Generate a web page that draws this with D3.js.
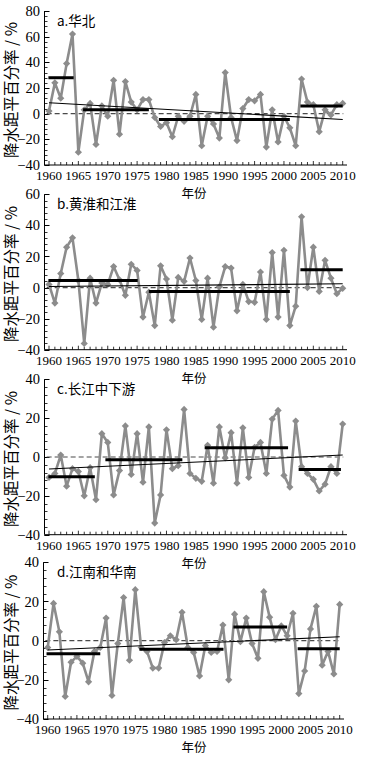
<!DOCTYPE html>
<html><head><meta charset="utf-8">
<script src="https://cdn.jsdelivr.net/npm/d3@7"></script>
<style>
html,body{margin:0;padding:0;background:#fff;}
svg{display:block;}
</style></head>
<body>
<svg id="chart" width="371" height="760"></svg>
<script>
// ---- data ----
const years = d3.range(1960, 2011);
const panelTitles = ["a.华北", "b.黄淮和江淮", "c.长江中下游", "d.江南和华南"];
const yAxisLabel = "降水距平百分率 / %";
const xAxisLabel = "年份";
const xTickValues = [1960,1965,1970,1975,1980,1985,1990,1995,2000,2005,2010];

const valuesA = [2,24,12,39,62,-30,3,8,-24,6,
  -2,26,-16,25,9,3,11,11,-3,-10,
  -7,-18,-2,-6,-2,15,-25,-2,-8,-19,
  32,-3,-21,4,11,10,15,-26,3,-22,
  -2,-11,-25,27,9,7,-14,3,-1,7,8];
const valuesB = [2,-10,9,26,32,4.5,-36,6,-10,3,
  2,13.5,5,-5,15,11,-19,-3,-24.5,14,
  5.5,-21,6.5,4,19,4.5,-20.5,6,-25.5,0.5,
  13.5,12.5,-15,2,-9,-9.5,10,-20.5,22.5,-19,
  24,-24.5,-12,45.5,0,26,-2.5,17.5,6,-4,-0.5];
const valuesC = [-10.5,-8.5,1,-15,-6,-7.5,-20,-5.5,-22,12,
  7.5,-19.5,-7,16,-9,12,-13,15.5,-34,-19.5,
  14,-6,-4.5,24.5,-8.5,-11,-12.5,6,-13.5,15.5,
  -0.5,12.5,-13.5,15,-10.5,5,7.5,-8.5,19.5,24,
  -9.5,-15.5,18.5,-5,-8.5,-11.5,-17.5,-14,-5,-8.5,17];
const valuesD = [-3.5,19,4.5,-28.5,-11,-8,-11.5,-21,-5.5,-3.5,
  11.5,-28,-1.5,22,-10,26,-3.5,-5.5,-14,-14,
  -1,2.5,0.5,14.5,-3.5,-6,-18,-2.5,-6,-5.5,
  8,-20,13.5,-0.5,11.5,-1.5,-9,25,12,0.5,
  7.5,2.5,14,-27,-15.5,6,17.5,-12.5,-5.5,-17,18.5];

// period means: [start year, end year, mean]
const meansA = [[1959.9,1964.2,28],[1965.8,1977,3],[1978.7,2001,-4.5],[2002.8,2010,6]];
const meansB = [[1959.9,1975.1,4.5],[1977,2001,-2.5],[2002.8,2010,11.5]];
const meansC = [[1959.9,1967.8,-10.2],[1969.6,1982.7,-1.4],[1986.5,2000.7,4.8],[2002.5,2009.7,-6.4]];
const meansD = [[1959.8,1969,-6.7],[1975.7,1990.1,-4.4],[1991.8,2001,7],[2002.8,2010,-4.1]];

// linear trends: [year, value] endpoints
const trendA = [[1960,8.5],[2010,-4.5]];
const trendB = [[1960,0.7],[2010,2.4]];
const trendC = [[1960,-6.2],[2010,1]];
const trendD = [[1960,-4.8],[2010,2]];

const yDomains = [[-40,80],[-40,60],[-40,40],[-40,40]];

// ---- layout ----
const layouts = [
  {top:11,   bottom:165,   axisX:44.5, x0:49,   x1:342.7, xEnd:347},
  {top:194.3,bottom:349.7, axisX:44.5, x0:49,   x1:342.7, xEnd:347},
  {top:379.3,bottom:534.7, axisX:44.5, x0:49,   x1:342.7, xEnd:347},
  {top:562.3,bottom:719,   axisX:43.5, x0:47.7, x1:339.7, xEnd:344}
];
const series = [valuesA, valuesB, valuesC, valuesD];
const means = [meansA, meansB, meansC, meansD];
const trends = [trendA, trendB, trendC, trendD];

const svg = d3.select("#chart");
const grey = "#8c8c8c";
const serif = "'Liberation Serif','Times New Roman',serif";
const cjk = "'Noto Sans CJK SC','Noto Sans',sans-serif";

series.forEach((vals, i) => {
  const L = layouts[i];
  const x = d3.scaleLinear().domain([1960, 2010]).range([L.x0, L.x1]);
  const y = d3.scaleLinear().domain(yDomains[i]).range([L.bottom, L.top]);
  const g = svg.append("g");

  // y axis
  const [ymin, ymax] = yDomains[i];
  g.append("line").attr("x1", L.axisX).attr("x2", L.axisX)
    .attr("y1", y(ymax)).attr("y2", y(ymin)).attr("stroke", "#000").attr("stroke-width", 1);
  const minorY = d3.range(ymin, ymax + 0.001, 4);
  g.selectAll(".ymin").data(minorY).enter().append("line")
    .attr("x1", L.axisX).attr("x2", L.axisX + 3)
    .attr("y1", d => Math.round(y(d)) + 0.5).attr("y2", d => Math.round(y(d)) + 0.5)
    .attr("stroke", "#000").attr("stroke-width", 0.8);
  const majorY = d3.range(ymin, ymax + 0.001, 20);
  g.selectAll(".ymaj").data(majorY).enter().append("line")
    .attr("x1", L.axisX).attr("x2", L.axisX + 5)
    .attr("y1", d => Math.round(y(d)) + 0.5).attr("y2", d => Math.round(y(d)) + 0.5)
    .attr("stroke", "#000").attr("stroke-width", 1);
  g.selectAll(".ylab").data(majorY).enter().append("text")
    .attr("x", L.axisX - 4.5).attr("y", d => y(d)).attr("dy", "0.35em")
    .attr("text-anchor", "end").attr("font-family", serif).attr("font-size", 14.5)
    .text(d => d3.format("d")(d).replace("-", "−"));

  // x axis
  g.append("line").attr("x1", L.axisX).attr("x2", L.xEnd)
    .attr("y1", L.bottom).attr("y2", L.bottom).attr("stroke", "#000").attr("stroke-width", 1);
  g.selectAll(".xmin").data(years).enter().append("line")
    .attr("x1", d => x(d)).attr("x2", d => x(d))
    .attr("y1", L.bottom).attr("y2", d => L.bottom - (d % 5 === 0 ? 4 : 3))
    .attr("stroke", "#000").attr("stroke-width", 0.8);
  g.selectAll(".xlab").data(xTickValues).enter().append("text")
    .attr("x", d => x(d)).attr("y", L.bottom + 15)
    .attr("text-anchor", "middle").attr("font-family", serif).attr("font-size", 13)
    .text(d => d);

  // zero dashed line
  g.append("line").attr("x1", x(1959.6)).attr("x2", x(2010.1))
    .attr("y1", y(0)).attr("y2", y(0))
    .attr("stroke", "#4a4a4a").attr("stroke-width", 1.2).attr("stroke-dasharray", "5,3");

  // series line
  const pts = years.map((yr, k) => [yr, vals[k]]);
  g.append("path").datum(pts)
    .attr("d", d3.line().x(d => x(d[0])).y(d => y(d[1])))
    .attr("fill", "none").attr("stroke", grey).attr("stroke-width", 2.6)
    .attr("stroke-linejoin", "round");
  const r = 3.6;
  g.selectAll(".mk").data(pts).enter().append("path")
    .attr("transform", d => `translate(${x(d[0])},${y(d[1])})`)
    .attr("d", `M0,${-r}L${r},0L0,${r}L${-r},0Z`)
    .attr("fill", grey);

  // trend line
  g.append("line")
    .attr("x1", x(trends[i][0][0])).attr("y1", y(trends[i][0][1]))
    .attr("x2", x(trends[i][1][0])).attr("y2", y(trends[i][1][1]))
    .attr("stroke", "#000").attr("stroke-width", 1.1);

  // period means
  g.selectAll(".mean").data(means[i]).enter().append("line")
    .attr("x1", d => x(d[0])).attr("x2", d => x(d[1]))
    .attr("y1", d => y(d[2])).attr("y2", d => y(d[2]))
    .attr("stroke", "#000").attr("stroke-width", 3);

  // titles
  g.append("text").attr("x", 57).attr("y", L.top + 15)
    .attr("font-family", cjk).attr("font-size", 13.5)
    .text(panelTitles[i]);
  g.append("text")
    .attr("transform", `translate(17,${(L.top + L.bottom) / 2 + 2}) rotate(-90)`)
    .attr("text-anchor", "middle").attr("font-family", cjk).attr("font-size", 15.5)
    .text(yAxisLabel);
  g.append("text").attr("x", 194).attr("y", L.bottom + 33)
    .attr("text-anchor", "middle").attr("font-family", cjk).attr("font-size", 12.5)
    .text(xAxisLabel);
});
</script>
</body></html>
